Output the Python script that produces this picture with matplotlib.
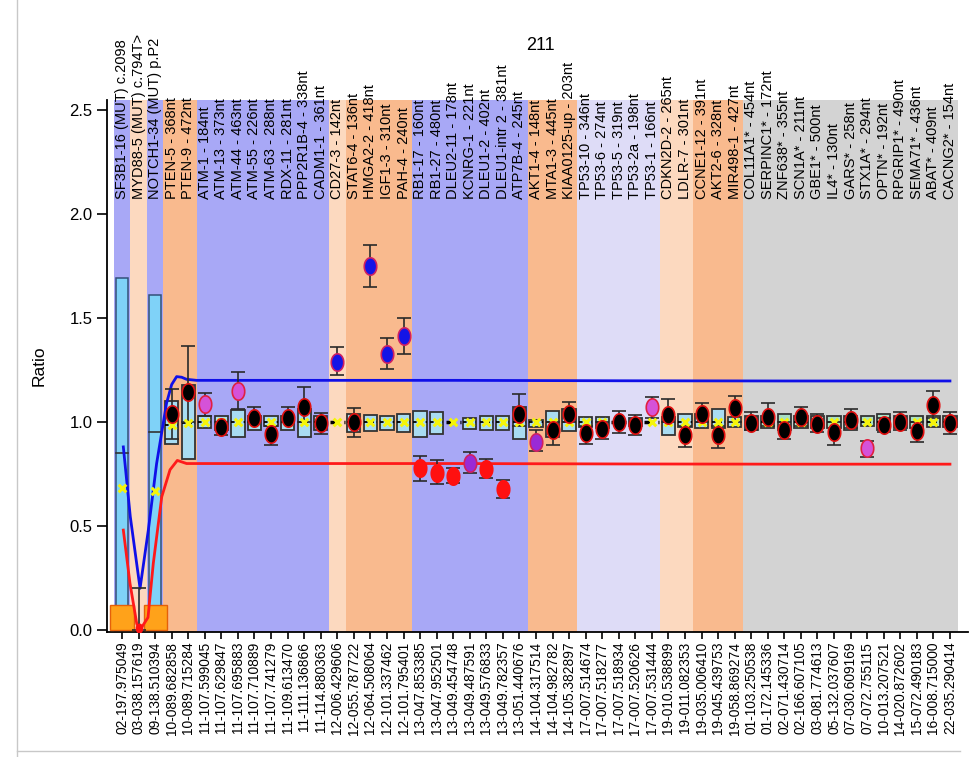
import numpy as np
import matplotlib
matplotlib.use("Agg")
import matplotlib.pyplot as plt
from matplotlib.lines import Line2D

plt.rcParams['font.family'] = ['Liberation Sans', 'DejaVu Sans']

probe_names = ["SF3B1-16 (MUT) c.2098", "MYD88-5 (MUT) c.794T>", "NOTCH1-34 (MUT) p.P2",
               "PTEN-5 - 368nt", "PTEN-9 - 472nt", "ATM-1 - 184nt", "ATM-13 - 373nt",
               "ATM-44 - 463nt", "ATM-55 - 226nt", "ATM-63 - 288nt", "RDX-11 - 281nt",
               "PPP2R1B-4 - 338nt", "CADM1-1 - 361nt", "CD27-3 - 142nt", "STAT6-4 - 136nt",
               "HMGA2-2 - 418nt", "IGF1-3 - 310nt", "PAH-4 - 240nt", "RB1-17 - 160nt",
               "RB1-27 - 480nt", "DLEU2-11 - 178nt", "KCNRG-1 - 221nt", "DLEU1-2 - 402nt",
               "DLEU1-intr 2 - 381nt", "ATP7B-4 - 245nt", "AKT1-4 - 148nt", "MTA1-3 - 445nt",
               "KIAA0125-up - 203nt", "TP53-10 - 346nt", "TP53-6 - 274nt", "TP53-5 - 319nt",
               "TP53-2a - 198nt", "TP53-1 - 166nt", "CDKN2D-2 - 265nt", "LDLR-7 - 301nt",
               "CCNE1-12 - 391nt", "AKT2-6 - 328nt", "MIR498-1 - 427nt", "COL11A1* - 454nt",
               "SERPINC1* - 172nt", "ZNF638* - 355nt", "SCN1A* - 211nt", "GBE1* - 500nt",
               "IL4* - 130nt", "GARS* - 258nt", "STX1A* - 294nt", "OPTN* - 192nt",
               "RPGRIP1* - 490nt", "SEMA71* - 436nt", "ABAT* - 409nt", "CACNG2* - 154nt"]

positions = ["02-197.975049", "03-038.157619", "09-138.510394", "10-089.682858", "10-089.715284",
             "11-107.599045", "11-107.629847", "11-107.695883", "11-107.710889", "11-107.741279",
             "11-109.613470", "11-111.136866", "11-114.880363", "12-006.429606", "12-055.787722",
             "12-064.508064", "12-101.337462", "12-101.795401", "13-047.853385", "13-047.952501",
             "13-049.454748", "13-049.487591", "13-049.576833", "13-049.782357", "13-051.440676",
             "14-104.317514", "14-104.982782", "14-105.382897", "17-007.514674", "17-007.518277",
             "17-007.518934", "17-007.520626", "17-007.531444", "19-010.538899", "19-011.082353",
             "19-035.006410", "19-045.439753", "19-058.869274", "01-103.250538", "01-172.145336",
             "02-071.430714", "02-166.607105", "03-081.774613", "05-132.037607", "07-030.609169",
             "07-072.755115", "10-013.207521", "14-020.872602", "15-072.490183", "16-008.715000",
             "22-035.290414"]

# background groups: (first column, last column, kind)
band_groups = [(0, 0, "blue"), (1, 1, "peach"), (2, 2, "blue"), (3, 4, "orange"),
               (5, 12, "blue"), (13, 13, "peach"), (14, 17, "orange"), (18, 24, "blue"),
               (25, 27, "orange"), (28, 32, "lav"), (33, 34, "peach"), (35, 37, "orange"),
               (38, 50, "grey")]

# mutation probes (first three columns)
mut_bar = [1.69, np.nan, 1.61]
mut_line = [0.85, np.nan, 0.95]
mut_base = [0.12, np.nan, 0.12]

# sample ratio per probe with error bars (NaN = nothing drawn)
ratio = [np.nan, 0.01, np.nan, 1.04, 1.146, 1.087, 0.977, 1.15, 1.02, 0.94, 1.02, 1.074,
         0.995, 1.29, 1.0, 1.75, 1.327, 1.413, 0.777, 0.753, 0.74, 0.805, 0.773, 0.676,
         1.04, 0.905, 0.96, 1.038, 0.945, 0.965, 1.0, 0.986, 1.074, 1.034, 0.938, 1.038,
         0.938, 1.066, 0.995, 1.026, 0.96, 1.025, 0.99, 0.95, 1.01, 0.875, 0.985, 1.0,
         0.955, 1.08, 0.995]
err_lo = [np.nan, 0.0, np.nan, 0.92, 1.0, 1.03, 0.935, 1.06, 1.0, 0.89, 1.0, 1.0,
          0.94, 1.226, 0.93, 1.65, 1.253, 1.325, 0.718, 0.70, 0.706, 0.756, 0.73, 0.633,
          0.98, 0.86, 0.89, 1.0, 0.894, 0.917, 0.949, 0.937, 1.02, 1.0, 0.88, 1.0,
          0.877, 1.0, 0.96, 0.98, 0.92, 0.98, 0.95, 0.89, 0.97, 0.83, 0.95, 0.96,
          0.905, 1.02, 0.94]
err_hi = [np.nan, 0.20, np.nan, 1.16, 1.365, 1.14, 1.0, 1.24, 1.07, 0.98, 1.07, 1.17,
          1.045, 1.36, 1.067, 1.85, 1.405, 1.50, 0.838, 0.815, 0.78, 0.854, 0.82, 0.72,
          1.133, 0.96, 1.0, 1.098, 0.98, 1.0, 1.053, 1.035, 1.119, 1.11, 0.98, 1.09,
          0.98, 1.125, 1.05, 1.09, 1.0, 1.07, 1.04, 1.0, 1.06, 0.91, 1.02, 1.05,
          1.0, 1.15, 1.05]
call = ["", "loss", "", "n", "n", "mild", "n", "mild", "n", "n", "n", "n",
        "n", "gain", "n", "gain", "gain", "gain", "loss", "loss", "loss", "mloss", "loss", "loss",
        "n", "mloss", "n", "n", "n", "n", "n", "n", "mild", "n", "n", "n",
        "n", "n", "n", "n", "n", "n", "n", "n", "n", "mild", "n", "n",
        "n", "n", "n"]

# reference sample spread boxes and reference mean
box_lo = [np.nan, np.nan, np.nan, 0.895, 0.82, 0.97, 0.96, 0.93, 0.96, 0.98, 0.96, 0.93,
          0.96, np.nan, 0.95, 0.955, 0.96, 0.95, 0.926, 0.94, np.nan, 0.966, 0.96, 0.96,
          0.917, 0.975, 0.93, 0.955, 0.976, 0.97, np.nan, 0.98, np.nan, 0.935, 0.976, 0.97,
          0.97, 0.975, 0.96, 0.97, 0.96, 0.97, 0.97, 0.97, 0.96, 0.98, 0.96, 0.97,
          0.97, 0.975, 0.975]
box_hi = [np.nan, np.nan, np.nan, 1.10, 1.18, 1.03, 1.03, 1.058, 1.03, 1.03, 1.03, 1.06,
          1.03, np.nan, 1.04, 1.035, 1.03, 1.04, 1.055, 1.05, np.nan, 1.018, 1.03, 1.03,
          1.074, 1.01, 1.053, 1.06, 1.025, 1.025, np.nan, 1.02, np.nan, 1.025, 1.04, 1.04,
          1.06, 1.025, 1.03, 1.03, 1.04, 1.03, 1.03, 1.03, 1.03, 1.03, 1.04, 1.03,
          1.03, 1.03, 1.03]
ref_mean = [0.68, np.nan, 0.67, 0.985, 0.997] + [1.0] * 46

# upper / lower arbitration limits
upper_x = [0.08, 0.5, 1.09, 1.59, 2.09, 2.69, 3.0, 3.3, 3.6, 3.9, 4.5, 10, 20, 30, 40, 50]
upper_y = [0.88, 0.545, 0.2, 0.48, 0.80, 1.09, 1.18, 1.218, 1.215, 1.205, 1.20, 1.20,
           1.20, 1.198, 1.197, 1.197]
lower_x = [0.08, 0.48, 0.89, 1.09, 1.57, 1.89, 2.4, 2.9, 3.34, 3.9, 4.5, 10, 20, 30, 40, 50]
lower_y = [0.48, 0.225, 0.03, 0.0, 0.06, 0.32, 0.64, 0.77, 0.815, 0.80, 0.80, 0.80,
           0.80, 0.798, 0.797, 0.797]

band_col = {"blue": "#a8a8f6", "peach": "#fcd9bf", "orange": "#f9ba8e",
            "lav": "#dedcf7", "grey": "#d3d3d3"}
marker_style = {"n": ("black", "#e01010"), "gain": ("#1414e6", "#d02060"),
                "loss": ("#ff1010", "#ff1010"), "mild": ("#d552d8", "#e02040"),
                "mloss": ("#9a2ad6", "#d02060")}

t = np.linspace(0, 2 * np.pi, 40)
ellipse = list(zip(0.72 * np.cos(t), np.sin(t)))

fig = plt.figure(figsize=(9.74, 7.57), dpi=100)
ax = fig.add_axes([107 / 974, 1 - 632 / 757, 861 / 974, 532 / 757])
n = len(probe_names)
xs = np.arange(n)

for a, b, kind in band_groups:
    ax.axvspan(a - 0.5, b + 0.5, color=band_col[kind], lw=0, zorder=0)

# mutation bars
ax.bar(xs[:3], mut_bar, width=0.75, color="#7fd2f8", edgecolor="#33507a", lw=1.1, zorder=2)
for i in range(3):
    if not np.isnan(mut_line[i]):
        ax.plot([i - 0.375, i + 0.375], [mut_line[i]] * 2, color="#333333", lw=1.2, zorder=3)
ax.bar(xs[:3], mut_base, width=1.4, color="#ffa21a", edgecolor="#e5600a", lw=1.0, zorder=4)

# reference boxes
for i in range(n):
    lo, hi = box_lo[i], box_hi[i]
    fc = "#a9e0c4" if i >= 38 else "#a9dcf2"
    if not np.isnan(lo):
        ax.bar(i, hi - lo, bottom=lo, width=0.8, color=fc, edgecolor="#333333", lw=1.3, zorder=2)
        ax.plot([i - 0.4, i + 0.4], [ref_mean[i]] * 2, color="black", lw=1.3,
                ls=(0, (2, 1.5)), zorder=3)
    elif i >= 3:
        ax.plot([i - 0.45, i + 0.45], [ref_mean[i]] * 2, color="black", lw=2.5,
                ls=(0, (2, 2)), zorder=3)
ax.scatter(xs, ref_mean, marker="x", s=30, color="#f5f50a", lw=2.2, zorder=6)

# arbitration lines
ax.plot(upper_x, upper_y, color="#1010e8", lw=2.0, zorder=4)
ax.plot(lower_x, lower_y, color="#ff1a1a", lw=2.0, zorder=4)

# sample ratios
r = np.array(ratio)
lo = np.array(err_lo)
hi = np.array(err_hi)
ax.errorbar(xs, r, yerr=[r - lo, hi - r], fmt="none", ecolor="#2a2a2a", elinewidth=1.2,
            capsize=4.7, capthick=1.2, zorder=5)
for i in range(n):
    if call[i] == "":
        continue
    fc, ec = marker_style[call[i]]
    ms = 6 if i == 1 else 12.5
    ax.plot(i, ratio[i], marker=ellipse, ms=ms, mfc=fc, mec=ec, mew=1.2, zorder=7)

# probe names
for i, name in enumerate(probe_names):
    ax.text(i, 2.07, name, rotation=90, ha="center", va="bottom", fontsize=10.5,
            clip_on=False, zorder=8)

ax.set_xlim(-0.906, 51.09)
ax.set_ylim(-0.01, 2.548)
ax.set_xticks(xs)
ax.set_xticklabels(positions, rotation=90, fontsize=9.9)
ax.set_yticks([0.0, 0.5, 1.0, 1.5, 2.0, 2.5])
ax.set_yticklabels(["0.0", "0.5", "1.0", "1.5", "2.0", "2.5"], fontsize=12)
ax.tick_params(axis="x", length=5, width=1.2, pad=2)
ax.tick_params(axis="y", length=7, width=1.2)
ax.set_ylabel("Ratio", fontsize=12.5, labelpad=16)
for s in ["top", "right"]:
    ax.spines[s].set_visible(False)
for s in ["left", "bottom"]:
    ax.spines[s].set_linewidth(1.3)

fig.text(540 / 974, 1 - 45 / 757, "211", ha="center", va="center", fontsize=13)
fig.add_artist(Line2D([17 / 974, 17 / 974], [0, 1], color="#c8c8c8", lw=1))
fig.add_artist(Line2D([17 / 974, 960 / 974], [1 - 751 / 757] * 2, color="#c8c8c8", lw=1))

fig.savefig("out.png", dpi=100)
